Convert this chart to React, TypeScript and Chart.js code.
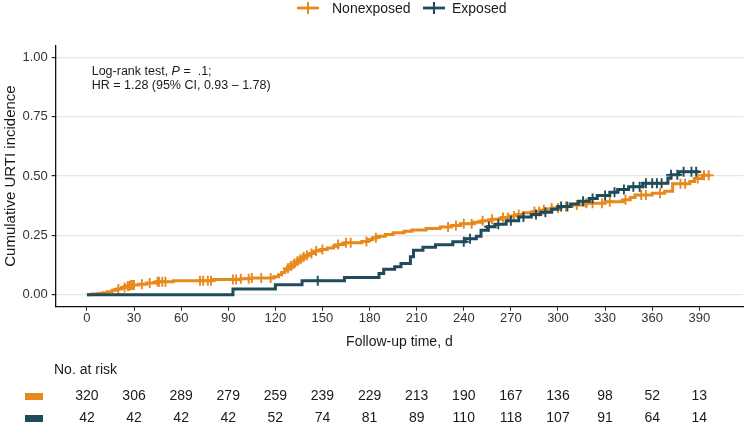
import React, { useEffect, useRef } from "react";
import { Chart, registerables } from "chart.js";

Chart.register(...registerables);

// ---------------- data ----------------
const groupNames = ["Nonexposed", "Exposed"];
const groupColors = ["#E8891C", "#1F4B5A"];

// Step points of cumulative incidence (day, value from that day onward)
const nonexposedTimes = [0, 3, 7, 10, 13, 16, 19, 22, 25, 28, 33, 38, 44, 55, 80, 98, 105, 119, 122, 124, 126, 128, 130, 132, 134, 136, 138, 140, 142, 145, 149, 153, 157, 160, 164, 175, 179, 182, 185, 190, 195, 202, 207, 216, 225, 232, 238, 246, 252, 258, 264, 269, 274, 278, 284, 291, 296, 301, 309, 318, 330, 342, 346, 349, 360, 368, 373, 384, 387, 392, 397];
const nonexposedInc = [0, 0.003, 0.006, 0.009, 0.013, 0.019, 0.025, 0.031, 0.037, 0.041, 0.045, 0.05, 0.055, 0.059, 0.064, 0.068, 0.071, 0.076, 0.085, 0.094, 0.103, 0.112, 0.121, 0.131, 0.141, 0.15, 0.159, 0.167, 0.174, 0.184, 0.191, 0.197, 0.205, 0.212, 0.219, 0.225, 0.233, 0.24, 0.247, 0.254, 0.261, 0.268, 0.273, 0.279, 0.286, 0.292, 0.299, 0.306, 0.312, 0.318, 0.325, 0.332, 0.338, 0.345, 0.351, 0.358, 0.365, 0.372, 0.378, 0.385, 0.392, 0.4, 0.41, 0.42, 0.428, 0.436, 0.468, 0.477, 0.49, 0.503, 0.503];
const nonexposedCensor = [20, 24, 26, 27, 28, 29, 30, 35, 40, 45, 46, 48, 50, 72, 74, 77, 79, 93, 95, 98, 103, 105, 111, 117, 128, 130, 132, 134, 136, 138, 140, 143, 146, 150, 160, 165, 168, 178, 184, 230, 235, 240, 245, 252, 258, 265, 268, 272, 275, 285, 288, 291, 296, 300, 305, 312, 318, 322, 328, 333, 343, 353, 356, 365, 378, 381, 389, 393, 396];

const exposedTimes = [0, 93, 120, 137, 164, 186, 189, 196, 200, 206, 208, 214, 222, 233, 241, 248, 251, 255, 260, 267, 275, 283, 289, 296, 300, 308, 313, 320, 325, 333, 338, 345, 354, 370, 372, 377, 390];
const exposedInc = [0, 0.024, 0.042, 0.059, 0.073, 0.09, 0.108, 0.118, 0.132, 0.16, 0.188, 0.2, 0.211, 0.223, 0.236, 0.247, 0.272, 0.287, 0.297, 0.312, 0.328, 0.338, 0.348, 0.36, 0.372, 0.382, 0.394, 0.406, 0.418, 0.432, 0.443, 0.455, 0.47, 0.492, 0.505, 0.518, 0.518];
const exposedCensor = [147, 240, 244, 256, 262, 270, 278, 286, 292, 302, 306, 316, 322, 330, 336, 342, 348, 352, 356, 360, 363, 366, 372, 376, 380, 385, 388];

const xTicks = [0, 30, 60, 90, 120, 150, 180, 210, 240, 270, 300, 330, 360, 390];
const yTicks = [0, 0.25, 0.5, 0.75, 1];
const riskNonexposed = [320, 306, 289, 279, 259, 239, 229, 213, 190, 167, 136, 98, 52, 13];
const riskExposed = [42, 42, 42, 42, 52, 74, 81, 89, 110, 118, 107, 91, 64, 14];

const xTitle = "Follow-up time, d";
const yTitle = "Cumulative URTI incidence";
const riskTitle = "No. at risk";

// ---------------- helpers ----------------
function valueAt(times: number[], vals: number[], t: number) {
  let v = vals[0];
  for (let i = 0; i < times.length; i++) if (times[i] <= t) v = vals[i];
  return v;
}

const FONT = "'Liberation Sans', Arial, sans-serif";

const overlayPlugin = {
  id: "overlay",
  afterDraw(chart: any) {
    const ctx = chart.ctx as CanvasRenderingContext2D;
    const xs = chart.scales.x;
    const area = chart.chartArea;
    ctx.save();

    // legend
    ctx.font = `14px ${FONT}`;
    ctx.textBaseline = "middle";
    ctx.textAlign = "left";
    const ly = 8;
    const items = [
      { sx: 297, tx: 332 },
      { sx: 423, tx: 452 },
    ];
    groupNames.forEach((name, i) => {
      const it = items[i];
      ctx.strokeStyle = groupColors[i];
      ctx.lineWidth = 2.8;
      ctx.beginPath();
      ctx.moveTo(it.sx, ly);
      ctx.lineTo(it.sx + 22, ly);
      ctx.stroke();
      ctx.lineWidth = 2;
      ctx.beginPath();
      ctx.moveTo(it.sx + 11, ly - 6);
      ctx.lineTo(it.sx + 11, ly + 6);
      ctx.stroke();
      ctx.fillStyle = "#1a1a1a";
      ctx.fillText(name, it.tx, ly + 1);
    });

    // annotation
    ctx.font = `12.5px ${FONT}`;
    ctx.fillStyle = "#1a1a1a";
    const ax = area.left + 36;
    const ay1 = area.top + 26;
    const ay2 = ay1 + 14;
    const s1 = "Log-rank test, ";
    ctx.fillText(s1, ax, ay1);
    let w = ctx.measureText(s1).width;
    ctx.font = `italic 12.5px ${FONT}`;
    ctx.fillText("P", ax + w, ay1);
    w += ctx.measureText("P").width;
    ctx.font = `12.5px ${FONT}`;
    ctx.fillText(" =  .1;", ax + w, ay1);
    ctx.fillText("HR = 1.28 (95% CI, 0.93 \u2013 1.78)", ax, ay2);

    // x title
    ctx.font = `14px ${FONT}`;
    ctx.textAlign = "center";
    ctx.fillText(xTitle, (area.left + area.right) / 2, 342);

    // risk table
    ctx.textAlign = "left";
    ctx.fillText(riskTitle, 54, 370);
    const rows = [riskNonexposed, riskExposed];
    const rowY = [396, 418];
    rows.forEach((row, r) => {
      ctx.fillStyle = groupColors[r];
      ctx.fillRect(25, rowY[r] - 3, 18, 7);
      ctx.fillStyle = "#1a1a1a";
      ctx.textAlign = "center";
      row.forEach((n, i) => {
        ctx.fillText(String(n), xs.getPixelForValue(xTicks[i]), rowY[r]);
      });
    });
    ctx.restore();
  },
};

export default function App() {
  const ref = useRef<HTMLCanvasElement | null>(null);
  useEffect(() => {
    document.body.style.margin = "0";
    const canvas = ref.current!;
    const curves = [
      { times: nonexposedTimes, vals: nonexposedInc, cens: nonexposedCensor },
      { times: exposedTimes, vals: exposedInc, cens: exposedCensor },
    ];
    const datasets: any[] = [];
    curves.forEach((c, i) => {
      datasets.push({
        type: "line",
        label: groupNames[i],
        data: c.times.map((t, k) => ({ x: t, y: c.vals[k] })),
        stepped: "before",
        borderColor: groupColors[i],
        borderWidth: 3,
        pointRadius: 0,
        fill: false,
        order: 10 - i * 2,
      });
      datasets.push({
        type: "scatter",
        label: groupNames[i] + " censored",
        data: c.cens.map((t) => ({ x: t, y: valueAt(c.times, c.vals, t) })),
        pointStyle: "cross",
        pointRadius: 5,
        pointBorderWidth: 1.9,
        borderColor: groupColors[i],
        backgroundColor: groupColors[i],
        order: 9 - i * 2,
      });
    });

    const chart = new Chart(canvas, {
      type: "line",
      data: { datasets },
      options: {
        animation: false,
        responsive: false,
        devicePixelRatio: 1,
        layout: { padding: { top: 45.4, right: 1.8, bottom: 0, left: 0 } },
        plugins: { legend: { display: false }, tooltip: { enabled: false } },
        scales: {
          x: {
            type: "linear",
            min: -19.9,
            max: 417.9,
            afterBuildTicks: (s: any) => {
              s.ticks = xTicks.map((v) => ({ value: v }));
            },
            afterFit: (s: any) => {
              s.height = 431 - 306.7;
            },
            grid: { drawOnChartArea: false, drawTicks: true, tickLength: 4, color: "#222", tickColor: "#222" },
            border: { display: true, color: "#111", width: 1.3 },
            ticks: { color: "#333", font: { family: FONT, size: 13 }, padding: 0, maxRotation: 0, autoSkip: false },
          },
          y: {
            type: "linear",
            min: -0.05,
            max: 1.05,
            afterBuildTicks: (s: any) => {
              s.ticks = yTicks.map((v) => ({ value: v }));
            },
            afterFit: (s: any) => {
              s.width = 55.7;
            },
            grid: { color: "#e6e6e6", lineWidth: 1.2, drawTicks: true, tickLength: 4, tickColor: "#222" },
            border: { display: true, color: "#111", width: 1.3 },
            ticks: {
              color: "#333",
              font: { family: FONT, size: 13 },
              padding: 4,
              callback: (v: any) => Number(v).toFixed(2),
            },
            title: {
              display: true,
              text: yTitle,
              color: "#1a1a1a",
              font: { family: FONT, size: 15 },
              padding: { top: 2, bottom: 0 },
            },
          },
        },
      },
      plugins: [overlayPlugin],
    } as any);
    return () => chart.destroy();
  }, []);
  return (
    <div style={{ width: 750, height: 431, position: "relative", background: "#fff" }}>
      <canvas ref={ref} width={750} height={431} style={{ width: 750, height: 431, display: "block" }} />
    </div>
  );
}
